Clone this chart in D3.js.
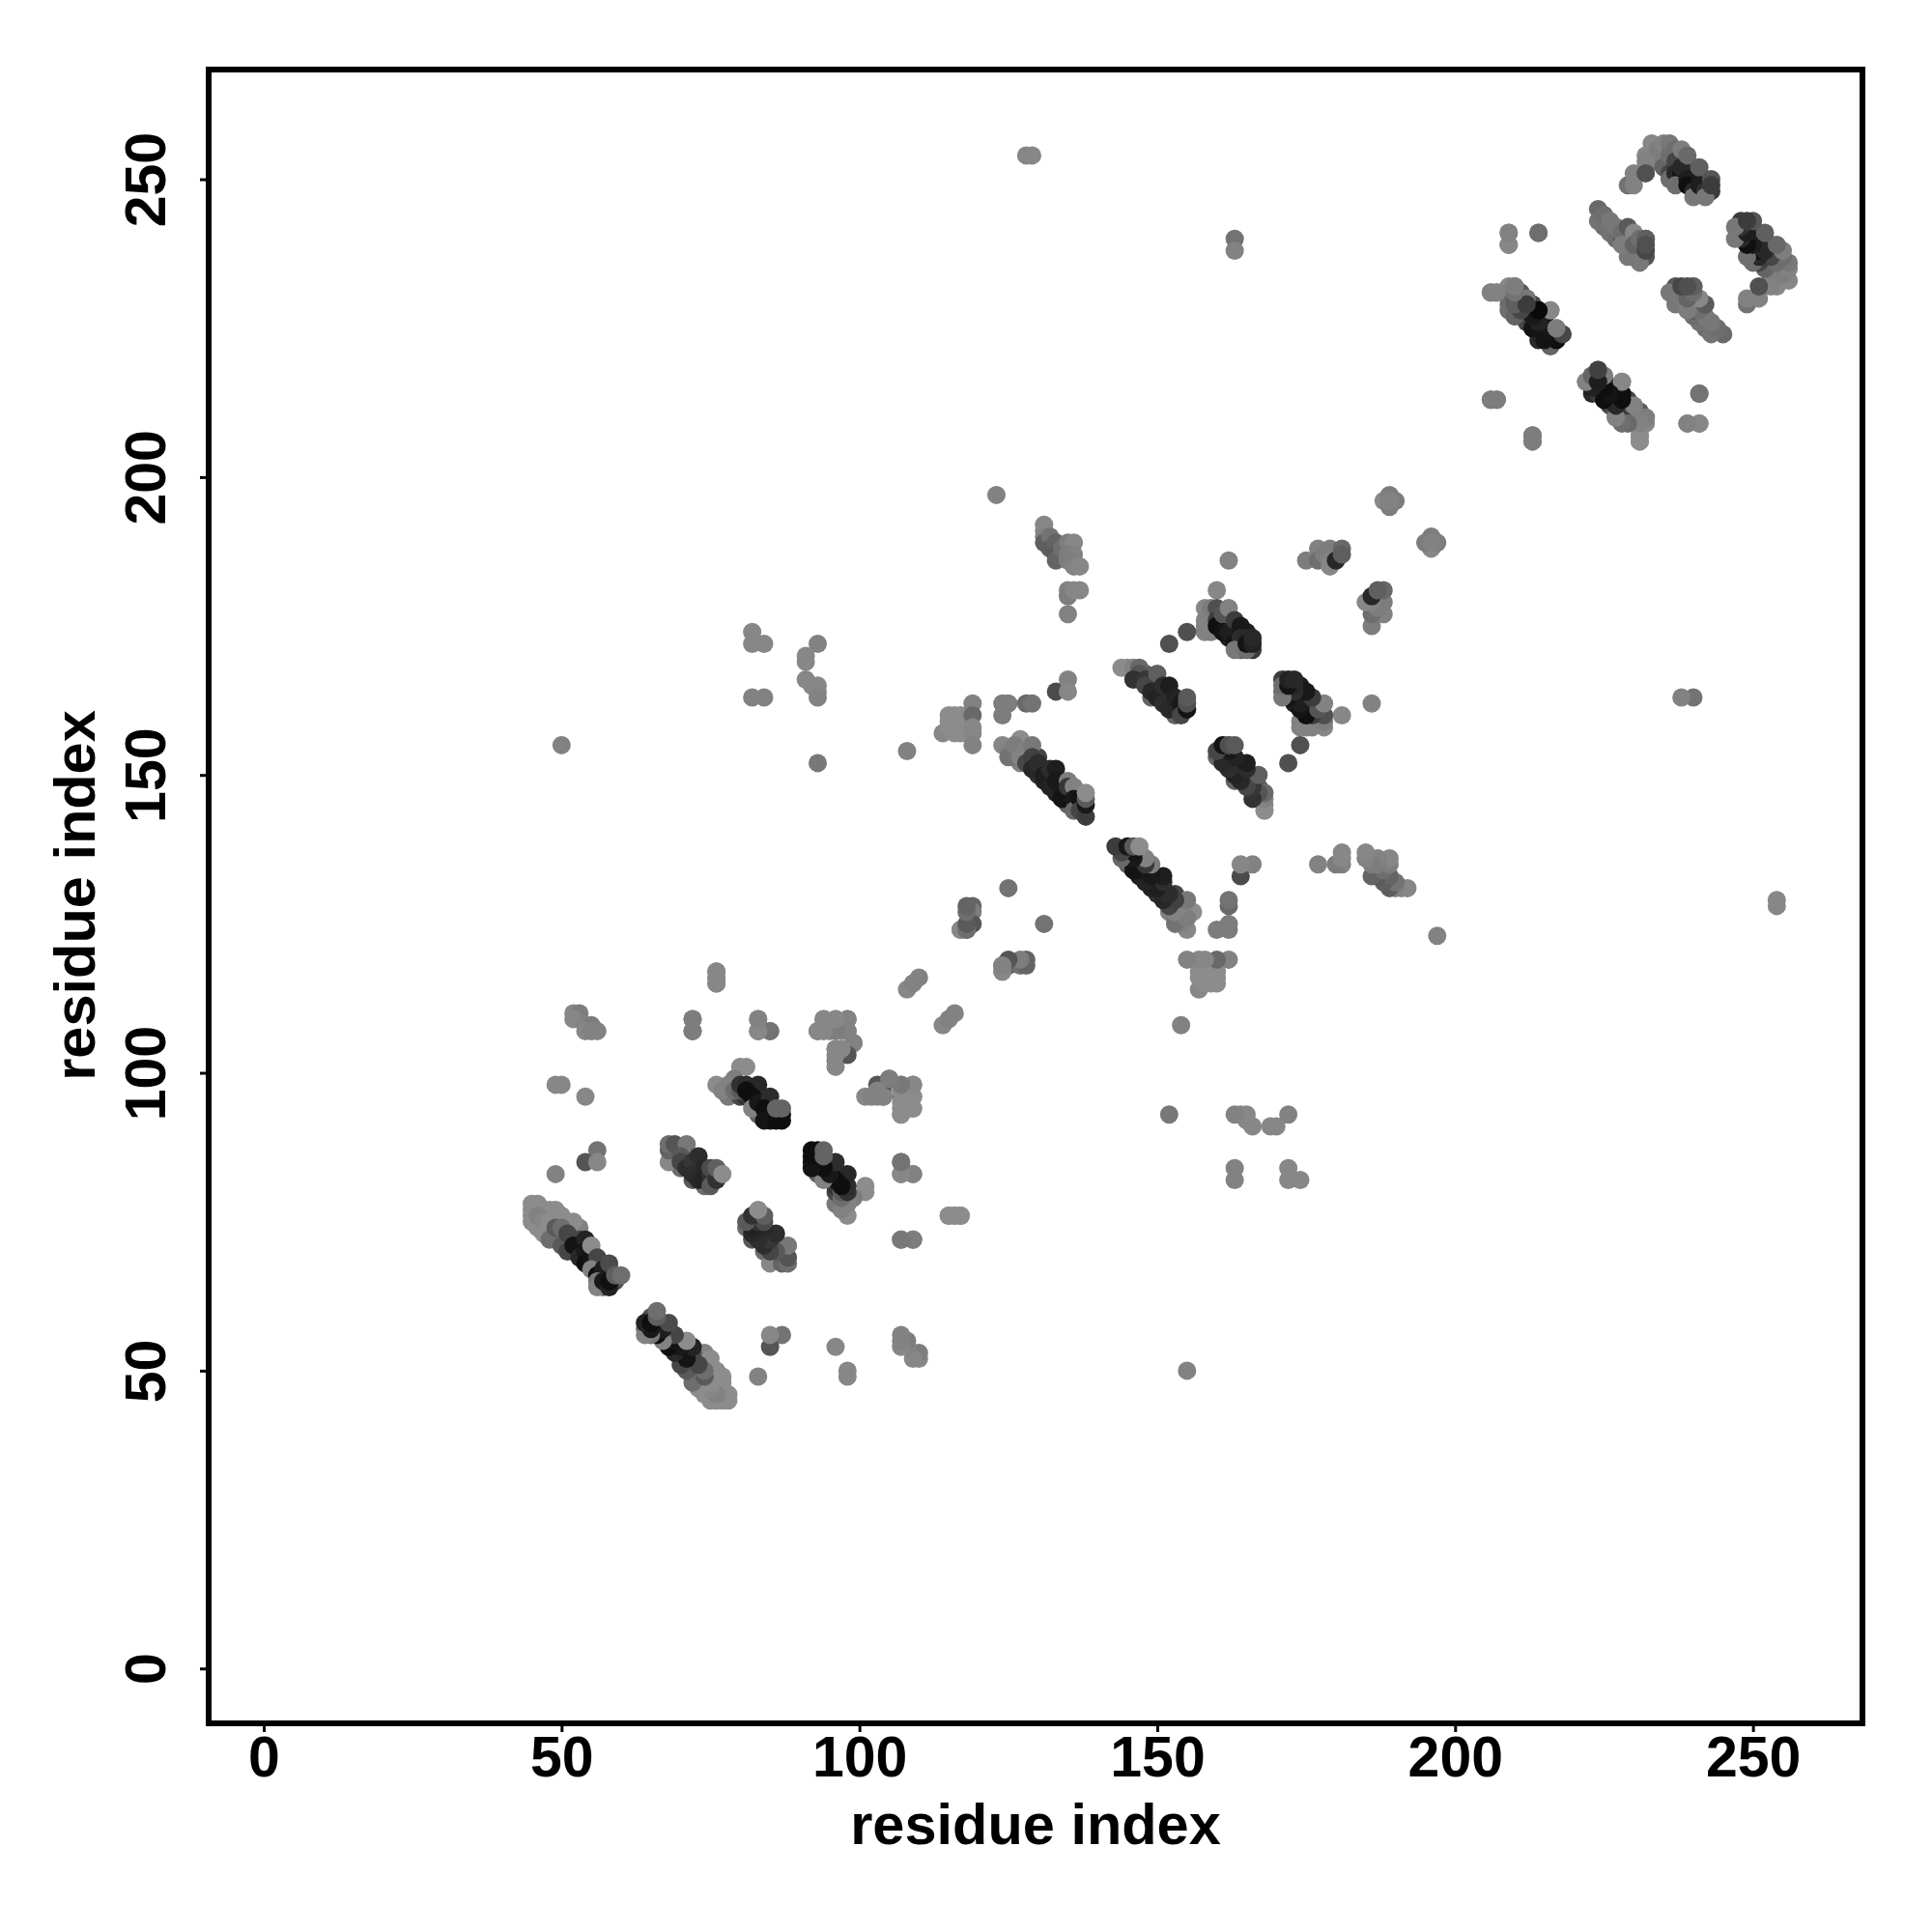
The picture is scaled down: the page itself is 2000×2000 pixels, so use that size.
<!DOCTYPE html>
<html><head><meta charset="utf-8">
<script src="https://cdn.jsdelivr.net/npm/d3@7"></script>
<style>html,body{margin:0;padding:0;background:#fff}svg{display:block}</style>
</head><body><svg id="c" width="2000" height="2000"></svg>
<script>
// contacts [residue i, residue j, grey level]; each is drawn at (i,j) and (j,i)
const tickValues = [0,50,100,150,200,250];
const axisTitle = "residue index";
const fillA = [[51,72,60],[52,70,50],[52,73,80],[53,71,30],[53,70,25],[54,71,25],[54,69,15],[55,68,15],[55,70,30],[56,68,20],[56,67,15],[57,66,15],[57,68,70],[57,64,110],[58,66,40],[59,65,80],[50,73,70],[50,72,70],[49,72,100],[49,73,90],[48,74,110],[48,73,120],[51,74,120],[52,74,125],[53,74,130],[47,74,135],[46,75,140],[46,77,140],[47,76,140]];
const fillB = [[69,86,80],[69,85,100],[70,87,80],[71,85,50],[71,86,60],[72,84,35],[73,84,35],[73,83,30],[74,83,30],[75,82,35],[76,83,50],[72,82,90],[74,81,110],[70,84,110]];
const fillC = [[78,96,120],[79,98,100],[80,96,70],[81,96,50],[82,97,25],[83,96,20],[83,94,40],[84,95,20],[84,93,15],[85,94,20],[86,93,15],[83,93,100],[82,95,60]];
const fillF = [[130,150,50],[131,151,30],[131,149,35],[132,149,25],[133,147,30],[133,148,25],[134,148,30],[135,145,100],[135,146,50],[135,147,25],[136,145,30],[137,145,25],[137,147,30],[128,153,80],[130,153,70],[127,152,130],[126,153,120],[126,154,130]];
const fillG = [[147,166,60],[148,167,90],[149,165,45],[150,165,50],[150,164,40],[151,164,35],[151,163,30],[152,163,30],[152,162,30],[153,162,25],[153,161,40],[154,161,30],[149,163,100],[153,160,100],[146,167,120]];
const fillH = [[159,176,120],[159,175,70],[160,177,70],[161,176,50],[161,175,30],[162,175,25],[162,173,30],[163,174,25],[163,173,25],[164,174,30],[164,172,30],[164,171,100],[165,174,30],[166,171,60],[159,174,130],[158,175,130]];
const fillDomainA = [[210,230,120],[210,229,100],[211,228,60],[211,230,125],[211,227,90],[212,229,60],[213,227,15],[213,226,25],[214,227,10],[214,224,60],[215,226,15],[215,224,20],[216,225,25],[216,223,50]];
const fillDomainB = [[224,216,30],[224,215,20],[224,217,40],[225,215,15],[226,215,30],[226,213,20],[227,215,50],[227,212,35],[228,212,40],[228,213,25],[226,212,70],[229,211,50],[230,211,80],[230,210,100],[223,214,40],[229,213,70],[231,211,90]];
const fillDomainC = [[225,242,110],[226,241,115],[227,240,110],[228,240,90],[229,239,100],[229,240,70],[230,238,110],[231,238,90],[231,239,75],[229,237,120],[230,237,120],[232,237,85],[232,240,105]];
const fillDomainD = [[233,253,110],[234,253,120],[235,254,125],[235,252,100],[236,251,70],[236,250,110],[237,252,60],[238,253,90],[238,250,60],[239,251,30],[240,252,80],[240,250,40],[240,249,50],[241,250,40],[241,248,110],[242,250,70],[243,248,60],[242,249,45]];
const strandA = [[45,78,140],[46,78,140],[45,77,140],[45,76,140],[45,75,140],[46,74,140],[47,77,140],[48,77,140],[49,77,140],[46,76,130],[47,75,135],[48,75,140],[49,76,140],[50,76,140],[51,75,140],[52,75,140],[47,73,140],[48,72,110],[49,74,90],[50,74,110],[50,71,90],[51,73,70],[51,70,70],[53,72,70],[52,71,20],[54,72,35],[53,69,40],[54,70,25],[54,68,15],[55,69,20],[55,71,140],[56,69,70],[55,67,130],[56,66,15],[57,67,30],[56,65,120],[56,64,130],[57,65,25],[58,68,75],[58,64,35],[58,65,15],[59,66,95],[60,66,110]];
const strandB = [[68,85,135],[68,87,100],[68,88,110],[69,88,85],[71,88,120],[70,86,90],[70,85,70],[71,84,45],[72,85,55],[73,86,45],[72,83,45],[73,82,40],[74,84,40],[74,82,35],[75,83,50],[75,81,90],[75,84,75],[76,82,50],[76,84,95],[77,83,140]];
const strandC = [[80,101,140],[81,101,140],[79,99,125],[76,98,140],[77,97,130],[78,98,130],[79,97,110],[80,97,90],[80,98,50],[81,98,45],[83,98,40],[81,97,15],[82,96,15],[82,94,130],[83,95,25],[85,96,45],[84,94,15],[85,93,15],[84,92,20],[85,92,20],[86,92,15],[87,92,15],[87,93,15],[87,94,100],[86,94,100]];
const looseEarly = [[52,110,135],[53,110,125],[52,109,135],[54,108,130],[55,108,125],[54,107,135],[55,107,130],[56,107,130],[49,98,135],[50,98,135],[54,96,135],[56,87,115],[54,85,85],[56,85,135],[49,83,130],[72,109,125],[72,107,120],[83,109,130],[83,107,135],[85,107,115],[76,117,140],[76,116,140],[76,115,140],[94,109,140],[96,109,140],[98,109,135],[93,107,140],[95,107,140],[97,107,140],[98,107,120],[98,104,85],[99,105,125],[96,104,130],[96,102,130],[97,103,130],[105,99,130],[103,98,85],[104,97,135],[107,98,130],[109,98,130],[101,96,135],[103,96,135],[104,96,135],[107,96,125],[109,96,135],[107,94,135],[109,94,135],[107,93,135],[107,85,115],[107,83,135],[109,83,130],[115,76,135],[116,76,135],[117,76,135],[107,72,125],[109,72,125],[108,114,135],[109,115,130],[110,116,130]];
const looseMiddle = [[50,155,130],[93,152,120],[82,174,135],[82,172,135],[84,172,135],[82,163,130],[84,163,130],[93,172,130],[91,170,135],[91,169,135],[91,166,135],[92,165,135],[93,165,135],[93,164,135],[93,163,130],[108,154,130],[123,197,130],[125,131,115],[119,128,100],[119,127,125],[119,125,85],[117,124,135],[118,124,130],[124,117,135],[124,118,110],[125,118,90],[127,118,110],[128,118,100]];
const clusterD = [[131,192,135],[131,191,135],[131,190,130],[131,189,95],[132,190,115],[132,188,95],[133,189,100],[133,187,90],[133,186,100],[134,188,110],[135,189,125],[136,189,135],[135,187,125],[136,187,130],[135,186,125],[136,185,130],[137,185,135],[135,181,130],[137,181,135],[135,180,125],[136,181,135],[135,177,130]];
const clusterE = [[114,157,135],[115,160,140],[116,160,140],[117,160,140],[115,159,140],[116,159,140],[117,159,140],[115,158,140],[116,157,140],[117,157,140],[118,158,140],[119,162,130],[119,160,105],[119,158,135],[119,157,135],[119,155,130],[124,162,125],[125,162,125],[124,160,125],[128,162,105],[129,162,115],[133,164,75],[135,166,130],[135,164,135]];
const strandF = [[124,155,135],[125,154,130],[125,153,115],[127,156,140],[126,155,125],[127,153,130],[128,154,130],[128,152,70],[129,155,120],[129,153,65],[129,151,40],[130,152,45],[131,150,30],[132,151,45],[133,151,30],[132,148,35],[133,149,25],[134,147,25],[135,149,125],[134,146,20],[135,148,55],[136,148,130],[136,146,25],[136,144,105],[137,146,20],[137,144,70],[138,143,60],[138,145,25],[138,146,90],[138,147,140]];
const strandG = [[144,168,140],[145,168,140],[146,168,130],[147,168,105],[147,167,85],[146,166,50],[148,166,55],[148,165,70],[150,167,95],[149,164,40],[150,163,35],[151,165,45],[152,165,30],[151,162,45],[152,161,40],[153,163,35],[154,162,25],[154,160,70],[155,161,20],[155,162,80],[155,163,90]];
const strandH = [[158,178,135],[158,176,130],[158,174,130],[159,178,125],[160,181,135],[160,178,80],[160,176,60],[160,175,15],[161,177,85],[161,174,20],[162,186,130],[162,178,130],[162,174,30],[163,176,60],[163,172,20],[164,175,25],[164,173,45],[163,171,120],[165,171,110],[165,173,40],[165,172,20],[166,172,35],[166,173,40],[152,172,80],[155,174,80]];
const looseLate = [[188,196,135],[189,197,125],[190,196,125],[189,195,125],[189,196,130],[175,186,125],[177,188,130],[177,186,110],[178,187,125],[179,188,125],[179,186,130],[179,185,135],[180,186,40],[181,188,105],[181,187,95],[163,240,115],[163,238,130],[128,254,135],[129,254,135]];
const clusterDomainA = [[206,231,140],[207,231,140],[209,232,135],[210,232,125],[209,231,130],[209,229,105],[209,228,110],[210,227,130],[212,230,130],[212,227,40],[213,228,15],[214,228,15],[216,228,135],[213,225,15],[214,226,20],[215,225,15],[215,223,35],[216,222,130],[217,223,100],[217,225,125],[216,224,30],[218,224,65],[209,241,135],[209,239,130],[214,241,115]];
const clusterDomainB = [[206,213,125],[207,213,125],[213,207,125],[213,206,125],[222,216,100],[223,217,15],[224,218,70],[223,215,20],[225,216,25],[225,213,20],[226,214,35],[225,217,125],[228,216,135],[227,213,25],[228,214,10],[227,210,100],[228,211,70],[229,210,95],[230,212,120],[229,212,60],[231,210,115],[232,210,125],[231,207,130],[231,206,130],[239,209,135],[241,209,130],[241,214,110]];
const clusterDomainC = [[224,245,105],[224,243,115],[225,244,110],[226,243,120],[227,242,120],[228,241,110],[228,239,125],[229,242,90],[230,241,135],[230,239,100],[231,240,110],[231,236,120],[232,240,95],[232,238,70],[232,239,80]];
const clusterDomainD = [[229,249,115],[230,251,130],[230,249,130],[232,254,135],[232,253,130],[232,251,80],[233,256,135],[234,255,125],[235,256,130],[236,256,120],[236,254,110],[237,255,110],[237,253,70],[237,251,40],[238,255,125],[238,251,15],[237,249,110],[238,252,40],[239,254,105],[239,250,30],[239,249,15],[240,248,40],[240,247,120],[241,252,95],[241,249,30],[242,248,50],[242,247,120],[243,250,85],[243,249,60]];
const clusters = [fillA,fillB,fillC,fillF,fillG,fillH,fillDomainA,fillDomainB,fillDomainC,fillDomainD,strandA,strandB,strandC,looseEarly,looseMiddle,clusterD,clusterE,strandF,strandG,strandH,looseLate,clusterDomainA,clusterDomainB,clusterDomainC,clusterDomainD];

const svg = d3.select("#c");
const x = d3.scaleLinear().domain([-9.16,268.3]).range([216.5,1927.5]);
const y = d3.scaleLinear().domain([-9.16,268.3]).range([1783.7,72.7]);
const grey = g => d3.rgb(g,g,g).formatHex();
const R = 9.5;
const contacts = clusters.flat();
const dots = svg.append("g");
dots.selectAll("circle.u").data(contacts).join("circle").attr("class","u")
  .attr("cx",d=>x(d[0])).attr("cy",d=>y(d[1])).attr("r",R).attr("fill",d=>grey(d[2]));
dots.selectAll("circle.l").data(contacts).join("circle").attr("class","l")
  .attr("cx",d=>x(d[1])).attr("cy",d=>y(d[0])).attr("r",R).attr("fill",d=>grey(d[2]));

svg.append("rect").attr("x",216).attr("y",72).attr("width",1712).attr("height",1712)
  .attr("fill","none").attr("stroke","#000").attr("stroke-width",6);

const font = "'Liberation Sans',Arial,sans-serif";
const ax = svg.append("g").attr("transform","translate(0,1784)")
  .call(d3.axisBottom(x).tickValues(tickValues).tickSize(9).tickPadding(0).tickSizeOuter(0));
ax.select(".domain").remove();
ax.selectAll("line").attr("stroke","#000").attr("stroke-width",3);
ax.selectAll("text").attr("y",54.5).attr("dy",0).attr("fill","#000")
  .style("font",`bold 59px ${font}`);
const ay = svg.append("g").attr("transform","translate(216,0)")
  .call(d3.axisLeft(y).tickValues(tickValues).tickSize(9).tickPadding(0).tickSizeOuter(0));
ay.select(".domain").remove();
ay.selectAll("line").attr("stroke","#000").attr("stroke-width",3);
ay.selectAll("text").attr("x",0).attr("dy",0).attr("y",0).attr("fill","#000")
  .attr("text-anchor","middle")
  .attr("transform",d=>`translate(-45.5,0) rotate(-90)`)
  .style("font",`bold 59px ${font}`);
svg.append("text").attr("x",1072).attr("y",1909).attr("text-anchor","middle")
  .style("font",`bold 59.5px ${font}`).text(axisTitle);
svg.append("text").attr("transform","translate(98,927) rotate(-90)").attr("text-anchor","middle")
  .style("font",`bold 59.5px ${font}`).text(axisTitle);
</script></body></html>
